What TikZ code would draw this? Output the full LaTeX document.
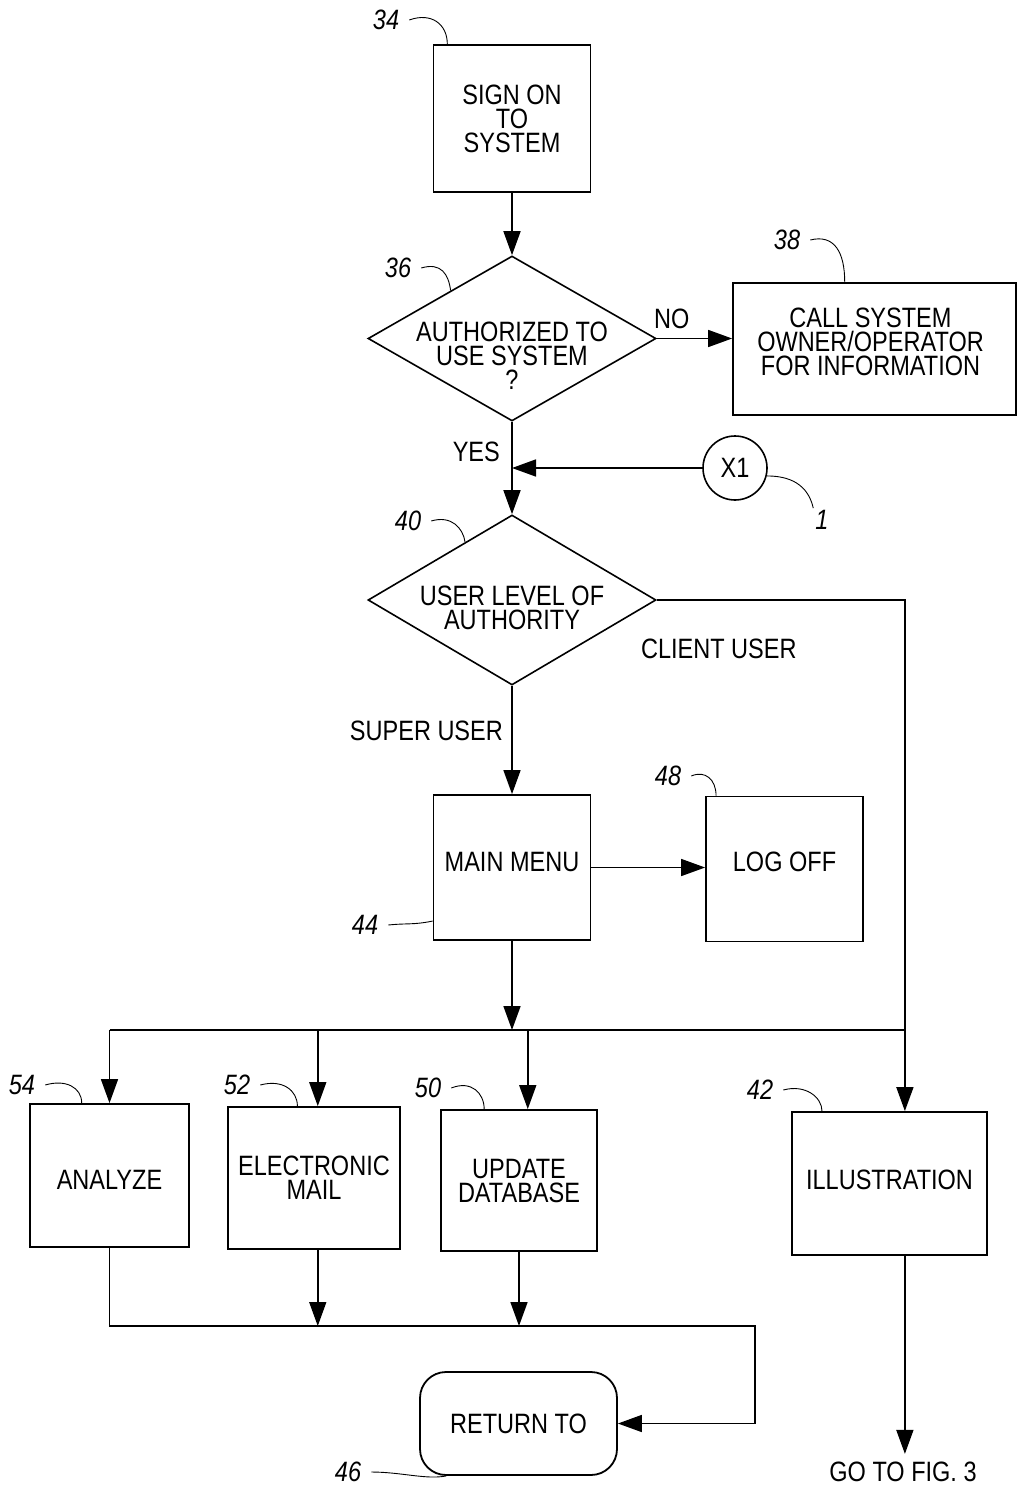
\documentclass[tikz,border=0pt]{standalone}
\usepackage{fontspec}
\setmainfont{Liberation Sans}[FakeStretch=0.84]
\usetikzlibrary{arrows.meta,positioning,shapes.geometric}

\begin{document}
\begin{tikzpicture}[
  x=1pt,y=-1pt,
  every node/.style={font=\fontsize{28}{24}\selectfont},
  box/.style={draw,line width=1.8pt,align=center,inner sep=0pt},
  dec/.style={draw,diamond,line width=1.6pt,inner sep=0pt,minimum width=288pt},
  term/.style={box,rounded corners=26pt},
  con/.style={draw,circle,line width=1.6pt,minimum size=64pt,inner sep=0pt},
  ref/.style={font=\fontsize{28}{24}\selectfont\itshape,inner sep=2pt},
  lead/.style={line width=0.9pt},
  arr/.style={line width=1.6pt,-{Triangle[length=24pt,width=17pt]}},
  bar/.style={line width=1.6pt}
]
\fill[white] (0,0) rectangle (1018,1487);
\useasboundingbox (0,0) rectangle (1018,1487);

% steps
\node[box,minimum width=157pt,minimum height=147pt] (signon) at (512,118.5) {SIGN ON\\TO\\SYSTEM};
\node[dec,minimum height=165pt,label={[align=center,yshift=-17pt]center:AUTHORIZED TO\\USE SYSTEM\\?}] (auth) at (512,338.5) {};
\node[box,minimum width=283pt,minimum height=132pt,label={[align=center,xshift=-4pt,yshift=7pt]center:CALL SYSTEM\\OWNER/OPERATOR\\FOR INFORMATION}] (call) at (874.5,349) {};
\node[con] (x1) at (735,468) {X1};
\node[dec,minimum height=170pt,label={[align=center,yshift=-8pt]center:USER LEVEL OF\\AUTHORITY}] (level) at (512,600) {};
\node[box,minimum width=157pt,minimum height=145pt,text depth=12pt] (menu) at (512,867.5) {MAIN MENU};
\node[box,minimum width=157pt,minimum height=145pt,text depth=14pt] (logoff) at (784.5,869) {LOG OFF};
\node[box,minimum width=159pt,minimum height=143pt,text height=28pt] (analyze) at (109.5,1175.5) {ANALYZE};
\node[box,minimum width=172pt,minimum height=142pt] (email) at (314,1178) {ELECTRONIC\\MAIL};
\node[box,minimum width=156pt,minimum height=141pt] (update) at (519,1180.5) {UPDATE\\DATABASE};
\node[box,minimum width=195pt,minimum height=143pt,text depth=7pt] (illus) at (889.5,1183.5) {ILLUSTRATION};
\node[term,minimum width=197pt,minimum height=103pt] (ret) at (518.5,1423.5) {RETURN TO};
\node[inner sep=8pt] (goto) at (903,1472) {GO TO FIG.~3};

% reference numerals
\node[ref] (r34) at (386,20) {34};
\node[ref] (r36) at (398,268) {36};
\node[ref] (r38) at (787,240) {38};
\node[ref] (r1) at (822,520) {1};
\node[ref] (r40) at (408,521) {40};
\node[ref] (r44) at (365,925) {44};
\node[ref] (r48) at (668,776) {48};
\node[ref] (r54) at (22,1085) {54};
\node[ref] (r52) at (237,1085) {52};
\node[ref] (r50) at (428,1088) {50};
\node[ref] (r42) at (760,1090) {42};
\node[ref] (r46) at (348,1472) {46};

\draw[lead] ([xshift=8pt]r34.east) .. controls +(22,-8) and +(0,-20) .. (signon.131);
\draw[lead] ([xshift=8pt]r36.east) .. controls +(20,-6) and +(-2,-16) .. (auth.142);
\draw[lead] ([xshift=8pt]r38.east) .. controls +(24,-6) and +(0,-30) .. (call.114);
\draw[lead] (x1.-14) .. controls +(30,0) and +(-4,-18) .. (r1.north west);
\draw[lead] ([xshift=8pt]r40.east) .. controls +(20,-6) and +(-2,-14) .. (level.129);
\draw[lead] ([xshift=8pt]r44.east) .. controls +(20,-2) and +(-20,4) .. (menu.214);
\draw[lead] ([xshift=8pt]r48.east) .. controls +(14,-6) and +(0,-16) .. (logoff.133);
\draw[lead] ([xshift=8pt]r54.east) .. controls +(20,-6) and +(0,-16) .. (analyze.111);
\draw[lead] ([xshift=8pt]r52.east) .. controls +(22,-6) and +(0,-16) .. (email.103);
\draw[lead] ([xshift=8pt]r50.east) .. controls +(20,-8) and +(0,-16) .. (update.116);
\draw[lead] ([xshift=8pt]r42.east) .. controls +(22,-6) and +(0,-14) .. (illus.133);
\draw[lead] ([xshift=8pt]r46.east) .. controls +(30,0) and +(-20,4) .. (ret.216);

% flow
\draw[arr] (signon.south) -- (auth.north);
\draw[arr] (auth.east) -- node[pos=0.2,above=6pt]{NO} (auth.east -| call.west);
\draw[arr] (auth.south) -- node[pos=0.33,left=8pt]{YES} (level.north);
\draw[arr] (x1.west) -- (x1.west -| auth.south);
\draw[arr] (level.east) -| node[pos=0.125,below=35pt]{CLIENT USER} (illus.78);
\draw[arr] (level.south) -- node[pos=0.42,left=5pt]{SUPER USER} (menu.north);
\draw[arr] (menu.east) -- (menu.east -| logoff.west);

\coordinate (bus) at (512,1030);
\draw[arr] (menu.south) -- (bus);
\draw[bar] (analyze.north |- bus) -- (illus.78 |- bus);
\draw[arr] (analyze.north |- bus) -- (analyze.north);
\draw[arr] (email.87 |- bus) -- (email.87);
\draw[arr] (update.83 |- bus) -- (update.83);

\coordinate (merge) at (755,1326);
\draw[arr] (analyze.south) |- (merge) |- (ret.east);
\draw[arr] (email.-87) -- (email.-87 |- merge);
\draw[arr] (update.south) -- (update.south |- merge);
\draw[arr] (illus.-78) -- (illus.-78 |- goto.north);
\end{tikzpicture}
\end{document}
